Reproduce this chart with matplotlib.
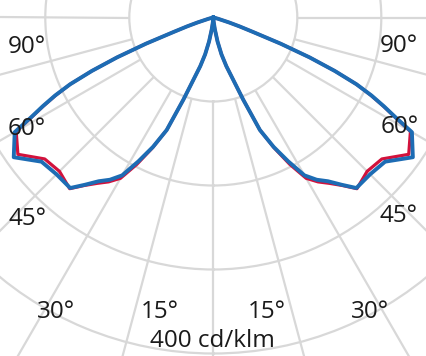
import numpy as np
import matplotlib
matplotlib.use("Agg")
import matplotlib.pyplot as plt

# luminous intensity (cd/klm) vs angle from nadir, one half of each plane
gamma = [0, 2.5, 5, 7.5, 10, 12.5, 15, 17.5, 20, 22.5, 25, 27.5, 30, 32.5, 35,
         37.5, 40, 45, 50, 55, 60, 61.25, 62.5, 63.75, 65, 66.25, 67.5,
         68.75, 70, 71.25, 72.5, 75, 80, 85, 90]
i_c90 = [0, 1, 5, 14, 29, 45, 60, 76, 104, 145, 170, 193, 217, 229, 238,
         251, 265, 264, 267, 290, 273, 248, 229, 210, 188, 158, 124,
         86, 50, 33, 20, 6, 1, 0, 0]
i_c0 = [0, 1, 5, 14, 29, 45, 60, 76, 104, 145, 171, 197, 221, 232, 241,
        252, 266, 259, 262, 284, 271, 247, 228, 209, 188, 158, 124,
        86, 50, 33, 20, 6, 1, 0, 0]

ring_values = [100, 200, 300, 400, 500]
spoke_angles = np.arange(0, 360, 15)

# labels: (text, x px, baseline y px)
angle_labels = [("90°", 27, 53), ("90°", 399, 52),
                ("60°", 27, 135), ("60°", 400, 133),
                ("45°", 27.5, 225), ("45°", 399, 222),
                ("30°", 56, 318), ("30°", 370.5, 318),
                ("15°", 160, 318), ("15°", 267, 318)]
scale_label = "400 cd/klm"

W, H = 427, 356
cx, cy = 213.3, 17.5      # pole position in pixels (from top)
px_per_unit = 0.84        # pixels per cd/klm
rmax = 600

plt.rcParams['font.family'] = ['Open Sans', 'DejaVu Sans']

fig = plt.figure(figsize=(W / 100, H / 100), dpi=100)
R = rmax * px_per_unit
ax = fig.add_axes([(cx - R) / W, (H - cy - R) / H, 2 * R / W, 2 * R / H],
                  projection='polar')
ax.set_theta_zero_location('S')
ax.set_ylim(0, rmax)
ax.set_xticks([])
ax.set_yticks(ring_values)
ax.set_yticklabels([])
ax.xaxis.grid(False)
ax.yaxis.grid(True, color='#d8d8d8', lw=1.6)
ax.spines['polar'].set_visible(False)
ax.patch.set_alpha(0)

ax.vlines(np.deg2rad(spoke_angles), 100, rmax, color='#d8d8d8', lw=1.6)

g = np.array(gamma)
th = np.deg2rad(np.concatenate([-g[::-1], g[1:]]))
red = np.concatenate([i_c0[::-1], i_c0[1:]])
blue = np.concatenate([i_c90[::-1], i_c90[1:]])
ax.plot(th, red, color='#d2123c', lw=2.3, solid_joinstyle='round', zorder=3)
ax.plot(th, blue, color='#1d6cb4', lw=2.8, solid_joinstyle='round', zorder=4)

for txt, x, y in angle_labels:
    fig.text(x / W, 1 - y / H, txt, ha='center', va='baseline',
             fontsize=17.5, color='#1a1a1a')
fig.text(212 / W, 1 - 347 / H, scale_label, ha='center', va='baseline',
         fontsize=17.5, color='#1a1a1a')

fig.savefig('out.png', dpi=100)
